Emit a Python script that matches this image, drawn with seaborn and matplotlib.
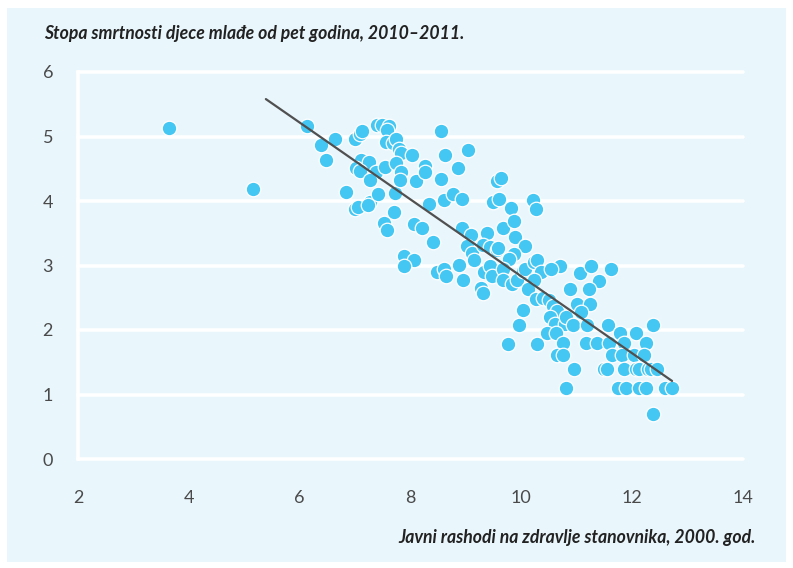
#libraries

import matplotlib.pyplot as plt
import seaborn as sns
from matplotlib.patches import Rectangle

#data

spending = [3.64, 5.16, 6.13, 6.38, 6.47, 6.64, 6.84, 7.00, 7.09, 7.12,
            7.11, 7.25, 7.02, 7.09, 7.00, 7.05, 7.27, 7.23, 7.40, 7.49,
            7.61, 7.58, 7.56, 7.68, 7.74, 7.79, 7.83, 7.38, 7.54, 7.74,
            7.83, 7.27, 7.41, 7.72, 7.70, 7.52, 7.58, 7.81, 8.03, 8.10,
            7.88, 8.06, 7.88, 8.06, 8.21, 8.26, 8.26, 8.33, 8.41, 8.55,
            8.62, 9.04, 8.55, 8.86, 8.60, 8.77, 8.93, 8.48, 8.60, 8.64,
            8.87, 8.95, 8.93, 9.09, 9.02, 9.11, 9.15, 9.38, 9.31, 9.43,
            9.56, 9.58, 9.33, 9.43, 9.47, 9.27, 9.31, 9.56, 9.63, 9.49,
            9.60, 9.81, 9.67, 9.87, 9.89, 10.07, 9.87, 9.78, 9.67, 9.67,
            9.83, 9.92, 10.03, 10.07, 10.23, 10.28, 10.35, 10.23, 10.12, 10.26,
            10.21, 10.26, 10.03, 9.96, 9.76, 10.28, 10.70, 10.53, 11.06, 11.26,
            11.62, 11.40, 10.88, 11.22, 10.39, 10.50, 10.57, 10.64, 10.52, 10.61,
            10.79, 10.81, 11.00, 11.24, 11.08, 10.93, 11.18, 11.56, 10.46, 10.63,
            11.78, 12.07, 12.38, 10.75, 11.17, 11.37, 11.58, 11.85, 12.25, 10.64,
            10.75, 11.64, 11.82, 12.03, 12.21, 10.95, 11.49, 11.55, 11.85, 12.07,
            12.12, 12.29, 12.34, 12.45, 10.81, 11.74, 11.89, 12.12, 12.25, 12.59,
            12.72, 12.38]

mortality = [5.13, 4.19, 5.16, 4.87, 4.64, 4.96, 4.14, 4.96, 5.04, 5.09,
             4.64, 4.60, 4.51, 4.47, 3.88, 3.91, 3.98, 3.94, 5.18, 5.18,
             5.16, 5.10, 4.91, 4.90, 4.96, 4.81, 4.74, 4.45, 4.53, 4.59,
             4.45, 4.33, 4.11, 4.12, 3.83, 3.66, 3.55, 4.33, 4.71, 4.31,
             3.15, 3.09, 2.99, 3.64, 3.58, 4.54, 4.45, 3.95, 3.36, 5.09,
             4.71, 4.79, 4.34, 4.51, 4.02, 4.11, 4.03, 2.90, 2.95, 2.84,
             3.01, 2.78, 3.58, 3.47, 3.30, 3.19, 3.09, 3.50, 3.32, 3.29,
             3.24, 3.27, 2.90, 2.99, 2.84, 2.65, 2.57, 4.31, 4.36, 3.98,
             4.03, 3.89, 3.58, 3.69, 3.44, 3.30, 3.18, 3.10, 2.95, 2.78,
             2.71, 2.78, 2.91, 2.95, 3.05, 3.09, 2.90, 2.78, 2.64, 2.48,
             4.02, 3.88, 2.31, 2.08, 1.78, 1.78, 2.99, 2.95, 2.88, 2.99,
             2.95, 2.76, 2.64, 2.64, 2.50, 2.47, 2.37, 2.29, 2.20, 2.09,
             2.09, 2.20, 2.40, 2.40, 2.28, 2.08, 2.08, 2.08, 1.95, 1.95,
             1.95, 1.95, 2.08, 1.80, 1.80, 1.80, 1.80, 1.80, 1.80, 1.61,
             1.61, 1.61, 1.61, 1.61, 1.61, 1.40, 1.40, 1.40, 1.40, 1.40,
             1.40, 1.40, 1.40, 1.40, 1.10, 1.10, 1.10, 1.10, 1.10, 1.10,
             1.10, 0.70]

trend_x = [5.39, 12.72]
trend_y = [5.58, 1.21]

x_ticks = [2, 4, 6, 8, 10, 12, 14]
y_ticks = [0, 1, 2, 3, 4, 5, 6]

title = "Stopa smrtnosti djece mlađe od pet godina, 2010–2011."
x_title = "Javni rashodi na zdravlje stanovnika, 2000. god."

panel = "#e9f6fc"
dot_blue = "#44c7f2"
tick_blue = "#17aae3"
text_grey = "#4a4a4a"

sns.set_style("white")
plt.rcParams['font.family'] = ['Lato', 'DejaVu Sans']

###Scatter plot with trend line

fig = plt.figure(figsize=(7.93, 5.68), dpi=100)
fig.patches.append(Rectangle((7 / 793, 6 / 568), 779 / 793, 554 / 568,
                             transform=fig.transFigure, facecolor=panel,
                             edgecolor="none", zorder=-5))

ax = fig.add_axes([78 / 793, 1 - 459 / 568, 665 / 793, 387 / 568])
ax.set_facecolor(panel)

sns.scatterplot(x=spending, y=mortality, s=110, color=dot_blue,
                edgecolor="white", linewidth=0.9, ax=ax, zorder=3)
sns.lineplot(x=trend_x, y=trend_y, color="#505050", linewidth=1.6,
             ax=ax, zorder=4)

ax.set_xlim(2, 14)
ax.set_ylim(0, 6)
ax.set_xticks(x_ticks)
ax.set_yticks(y_ticks)

ax.grid(axis="y", color="white", linewidth=2.6)
ax.grid(axis="x", visible=False)
ax.set_axisbelow(True)
for line in ax.yaxis.get_gridlines():
    line.set_clip_on(False)

for side in ["top", "right", "bottom"]:
    ax.spines[side].set_visible(False)
ax.spines["left"].set_color("white")
ax.spines["left"].set_linewidth(2.6)

ax.tick_params(axis="both", colors=tick_blue, width=2.2, length=8,
               labelcolor=text_grey, labelsize=13)
ax.tick_params(axis="y", pad=10)
ax.tick_params(axis="x", pad=14)

fig.text(44 / 793, 1 - 33 / 568, title, ha="left", va="center",
         fontsize=12.7, fontweight="bold", fontstyle="italic", color="#222222")
fig.text(756 / 793, 1 - 537 / 568, x_title, ha="right", va="center",
         fontsize=12.7, fontweight="bold", fontstyle="italic", color="#222222")

plt.savefig("out.png", dpi=100)
